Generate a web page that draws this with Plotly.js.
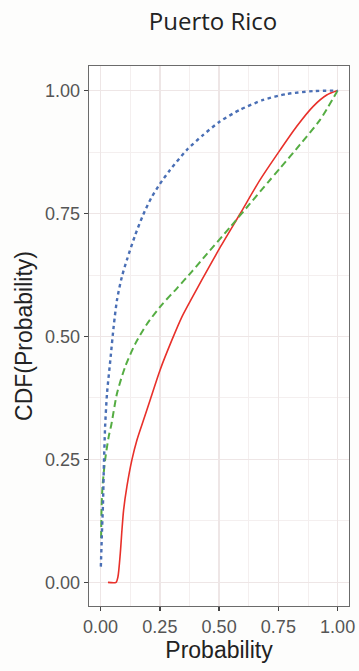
<!DOCTYPE html>
<html>
<head>
<meta charset="utf-8">
<script src="https://cdn.plot.ly/plotly-3.0.1.min.js"></script>
<style>
html,body{margin:0;padding:0;background:#fdfdfc;}
#chart{width:359px;height:671px;}
</style>
</head>
<body>
<div id="chart"></div>
<script>
// Blue dotted series
const blueX = [0.001,0.005,0.010,0.014,0.019,0.027,0.041,0.055,0.069,0.090,0.111,0.145,0.180,0.215,0.250,0.292,0.363,0.433,0.503,0.588,0.686,0.785,0.897,1.0];
const blueY = [0.032,0.093,0.160,0.240,0.317,0.384,0.452,0.520,0.574,0.622,0.656,0.705,0.748,0.783,0.810,0.838,0.879,0.910,0.937,0.961,0.981,0.993,0.999,1.0];
// Green dashed series
const greenX = [0.002,0.004,0.008,0.019,0.034,0.045,0.069,0.104,0.146,0.195,0.259,0.322,0.385,0.447,0.546,0.630,0.707,0.757,0.841,0.925,1.0];
const greenY = [0.090,0.150,0.195,0.249,0.296,0.320,0.384,0.439,0.485,0.525,0.565,0.598,0.632,0.667,0.722,0.770,0.814,0.842,0.890,0.940,1.0];
// Red solid series
const redX = [0.031,0.065,0.073,0.083,0.090,0.097,0.111,0.132,0.153,0.181,0.209,0.251,0.301,0.343,0.385,0.426,0.503,0.588,0.672,0.757,0.827,0.897,0.954,1.0];
const redY = [0.000,0.000,0.011,0.059,0.106,0.147,0.195,0.249,0.289,0.330,0.371,0.432,0.493,0.540,0.578,0.614,0.680,0.749,0.818,0.879,0.927,0.968,0.991,1.0];

const tickVals = [0, 0.25, 0.5, 0.75, 1];
const tickText = ['0.00', '0.25', '0.50', '0.75', '1.00'];

const traces = [
  {x: redX, y: redY, mode: 'lines', line: {color: '#e8302a', width: 1.6, shape: 'spline', smoothing: 0.7}, showlegend: false, hoverinfo: 'skip'},
  {x: greenX, y: greenY, mode: 'lines', line: {color: '#55ad43', width: 2, dash: '7px,4px', shape: 'spline', smoothing: 0.7}, showlegend: false, hoverinfo: 'skip'},
  {x: blueX, y: blueY, mode: 'lines', line: {color: '#4a6fb5', width: 2.4, dash: '3.5px,3.5px', shape: 'spline', smoothing: 0.7}, showlegend: false, hoverinfo: 'skip'}
];

const axisCommon = {
  tickmode: 'array', tickvals: tickVals, ticktext: tickText,
  ticks: 'outside', ticklen: 4, tickwidth: 1.3, tickcolor: '#444',
  showline: true, mirror: true, linecolor: '#6b6b6b', linewidth: 1.3,
  showgrid: true, gridcolor: '#eee6e6', gridwidth: 1.5,
  zeroline: false,
  minor: {dtick: 0.125, tick0: 0, showgrid: true, gridcolor: '#f4efef', gridwidth: 1, ticks: ''},
  tickfont: {family: 'Liberation Sans, Arial, sans-serif', size: 18, color: '#555'}
};

const layout = {
  width: 359, height: 671,
  margin: {l: 89, r: 10, t: 66, b: 65},
  paper_bgcolor: '#fdfdfc', plot_bgcolor: '#ffffff',
  title: {text: 'Puerto Rico', font: {family: 'Open Sans, sans-serif', size: 24, color: '#222'},
          x: 213/359, xref: 'container', xanchor: 'center', y: 1 - 22/671, yref: 'container', yanchor: 'middle'},
  xaxis: Object.assign({}, axisCommon, {range: [-0.049, 1.048],
    title: {text: 'Probability', font: {family: 'Liberation Sans, Arial, sans-serif', size: 23, color: '#222'}, standoff: 6}}),
  yaxis: Object.assign({}, axisCommon, {range: [-0.048, 1.050],
    title: {text: 'CDF(Probability)', font: {family: 'Liberation Sans, Arial, sans-serif', size: 23, color: '#222'}, standoff: 6}})
};

Plotly.newPlot('chart', traces, layout, {displayModeBar: false, staticPlot: true});
</script>
</body>
</html>
